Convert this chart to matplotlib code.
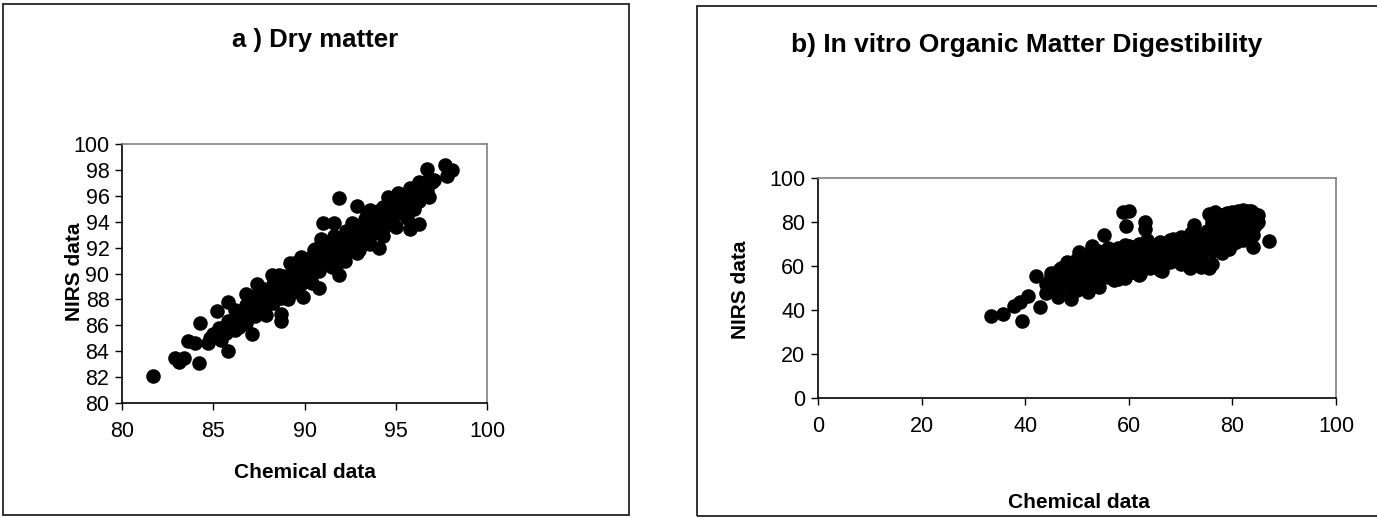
import matplotlib
matplotlib.use('Agg')
import matplotlib.pyplot as plt
from matplotlib.patches import Rectangle

plt.rcParams['font.family'] = ['Liberation Sans', 'DejaVu Sans']

# a) Dry matter: chemical (x) vs NIRS (y)
dm_chem = [81.7, 82.9, 83.1, 83.4, 84.2, 84.3, 83.6, 84.0, 84.7, 84.8, 85.4, 85.8,
           85.2, 85.8, 85.9, 86.4, 86.8, 87.1, 87.4, 86.9, 87.6, 87.9, 88.2, 88.7,
           88.7, 88.7, 89.2, 89.0, 89.8, 89.9, 90.1, 90.8, 90.5, 90.9, 91.0, 91.6,
           91.4, 91.9, 91.9, 92.9, 92.3, 92.9, 93.4, 94.0, 94.1, 94.5, 94.3, 95.1,
           95.4, 95.8, 96.3, 95.8, 96.3, 96.8, 96.7, 97.1, 97.7, 98.1, 97.8, 96.3, 96.0,
           85.0, 85.5, 86.0, 86.5, 87.0, 87.5, 88.0, 88.5, 89.0, 89.5, 90.0, 90.5,
           91.0, 91.5, 92.0, 92.5, 93.0, 93.5, 94.0, 94.5, 95.0, 95.5, 96.0, 96.5, 97.0,
           86.2, 86.8, 87.3, 87.8, 88.3, 88.8, 89.3, 89.8, 90.3, 90.8, 91.3, 91.8,
           92.3, 92.8, 93.3, 93.8, 94.3, 94.8, 95.3, 95.8, 96.3,
           86.2, 86.8, 87.3, 87.8, 88.3, 88.8, 89.3, 89.8, 90.3, 90.8, 91.3, 91.8,
           92.3, 92.8, 93.3, 93.8, 94.3, 94.8, 95.3, 95.8, 96.3,
           91.5, 92.2, 92.9, 93.6, 94.3, 95.0, 95.6, 92.5,
           85.3, 85.8, 86.3, 86.8, 87.3, 87.8, 88.3, 88.8, 89.3, 89.8, 90.3, 90.8,
           91.3, 91.8, 92.3, 92.8, 93.3, 93.8, 94.3, 94.8, 95.3, 95.8, 96.3, 96.8,
           85.7, 86.2, 86.7, 87.2, 87.7, 88.2, 88.7, 89.2, 89.7, 90.2, 90.7, 91.2,
           91.7, 92.2, 92.7, 93.2, 93.7, 94.2, 94.7, 95.2, 95.7, 96.2, 96.7,
           87.6, 88.6, 89.6, 90.6, 91.6, 92.6, 93.6, 94.6, 87.9, 89.1, 90.4, 91.7, 93.0]
dm_nirs = [82.1, 83.5, 83.2, 83.5, 83.1, 86.2, 84.8, 84.6, 84.6, 85.0, 84.9, 84.0,
           87.1, 87.8, 85.9, 85.9, 88.4, 85.3, 89.2, 86.8, 87.2, 87.7, 89.9, 86.3,
           86.9, 88.1, 90.8, 89.0, 91.3, 88.2, 89.8, 88.9, 91.8, 92.7, 93.9, 93.9,
           92.3, 89.9, 95.8, 95.2, 91.8, 92.3, 94.7, 94.8, 92.0, 95.3, 93.4, 96.2,
           94.7, 93.4, 93.8, 96.5, 95.9, 95.9, 98.1, 97.2, 98.4, 98.0, 97.5, 96.9, 95.0,
           85.3, 85.6, 86.3, 86.6, 87.3, 87.6, 88.2, 88.8, 89.3, 89.6, 90.3, 90.6,
           91.3, 91.9, 92.3, 92.8, 93.2, 93.6, 94.2, 94.6, 95.1, 95.6, 96.2, 96.6, 97.1,
           87.2, 87.6, 88.3, 88.7, 89.2, 89.8, 90.1, 90.8, 91.2, 91.8, 92.1, 92.7,
           93.3, 93.6, 94.2, 94.6, 95.1, 95.6, 96.1, 96.6, 97.1,
           85.6, 86.2, 86.7, 87.1, 87.7, 88.2, 88.6, 89.2, 89.7, 90.2, 90.7, 91.2,
           91.6, 92.2, 92.7, 93.1, 93.7, 94.2, 94.7, 95.1, 95.6,
           90.5, 91.0, 91.6, 92.3, 92.9, 93.6, 94.3, 92.6,
           85.8, 86.3, 86.9, 87.2, 87.8, 88.3, 88.8, 89.3, 89.8, 90.3, 90.8, 91.3,
           91.8, 92.3, 92.8, 93.2, 93.8, 94.3, 94.7, 95.3, 95.7, 96.2, 96.7, 97.3,
           85.4, 85.9, 86.4, 86.9, 87.4, 87.9, 88.4, 88.9, 89.4, 89.9, 90.4, 90.9,
           91.4, 91.9, 92.3, 92.9, 93.4, 93.9, 94.4, 94.9, 95.4, 95.9, 96.4,
           88.9, 89.9, 90.9, 91.9, 92.9, 93.9, 94.9, 95.9, 86.8, 88.0, 89.3, 90.6, 91.8]

# b) In vitro organic matter digestibility
om_chem = [33.4, 35.7, 37.9, 39.3, 38.9, 40.5, 42.1, 42.9, 44.1, 46.4, 46.6, 48.1,
           48.9, 50.4, 52.1, 52.9, 55.2, 54.3, 57.1, 58.9, 60.1, 59.5, 59.3, 59.3,
           62.1, 63.2, 63.2, 63.6, 66.4, 68.6, 71.8, 73.9, 75.4, 76.1, 72.5, 75.5,
           76.6, 79.3, 80.0, 82.1, 83.6, 85.0, 83.9, 84.6, 87.1, 81.8, 80.7,
           44, 46, 48, 50, 52, 54, 56, 58, 60, 62, 64, 66, 68, 70, 72, 74, 76, 78, 80, 82, 84,
           45, 47, 49, 51, 53, 55, 57, 59, 61, 63, 65, 67, 69, 71, 73, 75, 77, 79, 81, 83,
           46, 48, 50, 52, 54, 56, 58, 60, 62, 64, 66, 68, 70, 72, 74, 76, 78, 80, 82, 84,
           78, 80, 82, 84, 81, 83, 79, 77,
           45, 47, 49, 51, 53, 55, 57, 59, 61, 63, 65, 67, 69, 71, 73, 75, 77, 79, 81, 83,
           47, 49, 51, 53, 55, 57, 59, 61, 63, 65, 67, 69, 71, 73, 75, 77, 79, 81, 83,
           76, 78, 80, 82, 84, 79, 81, 83, 85,
           48, 50, 52, 54, 56, 58, 60, 62, 64, 66, 68, 70, 72,
           50, 54, 58, 62, 66, 70, 74, 78]
om_nirs = [37.3, 38.3, 41.6, 34.8, 43.8, 46.4, 55.4, 41.3, 47.9, 46.1, 58.1, 61.9,
           44.9, 66.4, 48.3, 69.0, 73.9, 50.6, 53.6, 84.5, 84.9, 78.2, 54.4, 69.4,
           56.2, 80.0, 77.0, 71.7, 57.7, 72.4, 58.9, 59.6, 58.9, 61.1, 78.5, 83.7,
           84.5, 67.9, 84.5, 85.5, 85.2, 83.4, 68.7, 79.2, 71.2, 76.2, 70.9,
           52, 53, 55, 56, 57, 58, 60, 61, 62, 63, 64, 65, 67, 68, 69, 70, 72, 73, 74, 75, 77,
           57, 59, 61, 62, 64, 65, 66, 67, 67, 68, 69, 70, 71, 72, 74, 76, 78, 79, 81, 82,
           48, 50, 51, 52, 53, 55, 56, 57, 58, 59, 60, 62, 63, 64, 65, 67, 69, 70, 72, 74,
           80, 82, 83, 84, 78, 80, 76, 75,
           55, 56, 58, 59, 60, 62, 63, 64, 65, 66, 67, 68, 69, 71, 72, 73, 75, 76, 77, 79,
           51, 52, 54, 55, 56, 57, 59, 60, 61, 62, 63, 65, 66, 67, 68, 70, 71, 73, 75,
           80, 83, 79, 80, 81, 84, 85, 85, 80,
           60, 63, 65, 67, 68, 68, 69, 70, 70, 71, 72, 73, 75,
           49, 51, 54, 56, 58, 61, 63, 66]

W, H = 1377, 518
fig = plt.figure(figsize=(W / 100, H / 100), dpi=100)
fig.patch.set_facecolor('white')


def px_rect(x0, y0, x1, y1):
    return [x0 / W, 1 - y1 / H, (x1 - x0) / W, (y1 - y0) / H]


# outer chart frames
for x0, y0, x1, y1 in [(3, 4, 629, 515), (697, 6, 1385, 516)]:
    r = px_rect(x0, y0, x1, y1)
    fig.patches.append(Rectangle((r[0], r[1]), r[2], r[3], transform=fig.transFigure,
                                 fill=False, edgecolor='#222222', linewidth=1.3))


def style_axes(ax):
    for side in ['top', 'right']:
        ax.spines[side].set_color('#808080')
        ax.spines[side].set_linewidth(1.2)
    for side in ['left', 'bottom']:
        ax.spines[side].set_color('black')
        ax.spines[side].set_linewidth(1.2)
    ax.tick_params(direction='out', length=5, width=1, labelsize=15.5, pad=8)
    ax.tick_params(axis='y', pad=4)


ax1 = fig.add_axes(px_rect(122, 144, 487, 403))
ax1.scatter(dm_chem, dm_nirs, s=110, color='black', linewidths=0, clip_on=False)
ax1.set_xlim(80, 100)
ax1.set_ylim(80, 100)
ax1.set_xticks([80, 85, 90, 95, 100])
ax1.set_yticks(list(range(80, 101, 2)))
style_axes(ax1)

ax2 = fig.add_axes(px_rect(818, 178, 1336, 398))
ax2.scatter(om_chem, om_nirs, s=110, color='black', linewidths=0, clip_on=False)
ax2.set_xlim(0, 100)
ax2.set_ylim(0, 100)
ax2.set_xticks([0, 20, 40, 60, 80, 100])
ax2.set_yticks([0, 20, 40, 60, 80, 100])
style_axes(ax2)

bold = dict(fontweight='bold', ha='center', va='center')
fig.text(315 / W, 1 - 40 / H, 'a ) Dry matter', fontsize=18.5, **bold)
fig.text(1027 / W, 1 - 45 / H, 'b) In vitro Organic Matter Digestibility', fontsize=19, **bold)
fig.text(305 / W, 1 - 472 / H, 'Chemical data', fontsize=15, **bold)
fig.text(1079 / W, 1 - 502 / H, 'Chemical data', fontsize=15, **bold)
fig.text(75 / W, 1 - 272 / H, 'NIRS data', fontsize=15, rotation=90, **bold)
fig.text(740 / W, 1 - 290 / H, 'NIRS data', fontsize=15, rotation=90, **bold)

fig.savefig('out.png', dpi=100, facecolor='white')
